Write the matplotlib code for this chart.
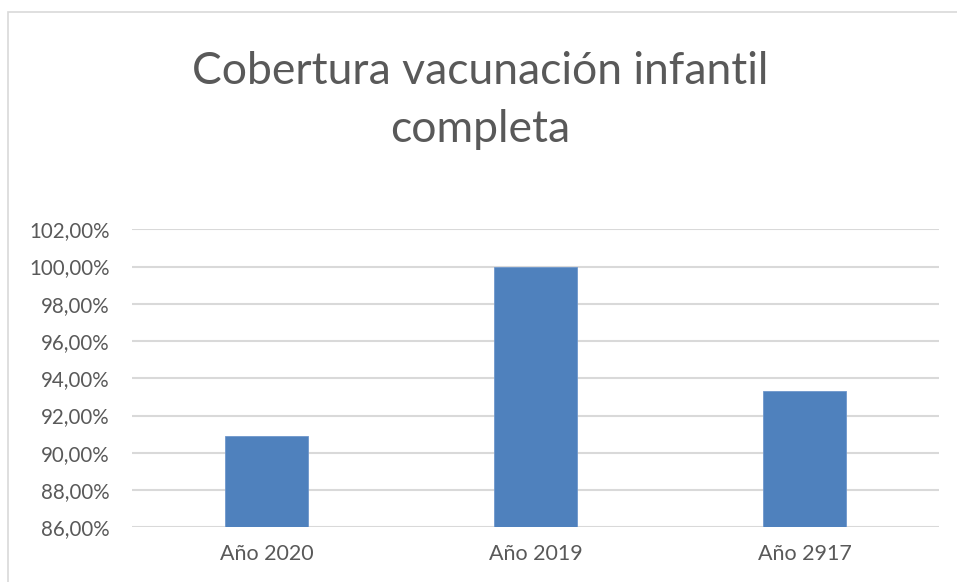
import matplotlib.pyplot as plt
from matplotlib.patches import Rectangle
from matplotlib.ticker import FuncFormatter

# datos
categorias = ['Año 2020', 'Año 2019', 'Año 2917']
cobertura = [90.9, 100.0, 93.3]
ticks_y = [86, 88, 90, 92, 94, 96, 98, 100, 102]

plt.rcParams['font.family'] = ['Lato', 'DejaVu Sans']
gris = '#595959'

fig = plt.figure(figsize=(9.57, 5.82), dpi=100)
ax = fig.add_axes([132 / 957, 1 - 527.3 / 582, 807 / 957, 298 / 582])

# marco del grafico (se sale por la derecha y por abajo)
fig.patches.append(Rectangle((8 / 957, -0.1), 1.2, 1 - 12 / 582 + 0.1,
                             transform=fig.transFigure, fill=False,
                             edgecolor='#d9d9d9', linewidth=1.2))

x = range(len(categorias))
ax.bar(x, [v - 86 for v in cobertura], bottom=86, width=0.31,
       color='#4f81bd', edgecolor='#6f97cc', linewidth=0.6, zorder=3)

ax.set_xlim(-0.5, 2.5)
ax.set_ylim(86, 102)
ax.set_yticks(ticks_y)
ax.yaxis.set_major_formatter(FuncFormatter(lambda v, p: f'{v:.2f}%'.replace('.', ',')))
ax.set_xticks(list(x))
ax.set_xticklabels(categorias)
ax.grid(axis='y', color='#d9d9d9', linewidth=1.5, zorder=0)
ax.tick_params(length=0, labelsize=15.5, labelcolor=gris)
ax.tick_params(axis='y', pad=16, labelsize=14.8)
ax.tick_params(axis='x', pad=12)
for s in ax.spines.values():
    s.set_visible(False)

fig.text(480 / 957, 1 - 72 / 582, 'Cobertura vacunación infantil', ha='center', va='center',
         fontsize=32, color=gris)
fig.text(480 / 957, 1 - 129 / 582, 'completa', ha='center', va='center',
         fontsize=32, color=gris)

fig.savefig('out.png', dpi=100)
